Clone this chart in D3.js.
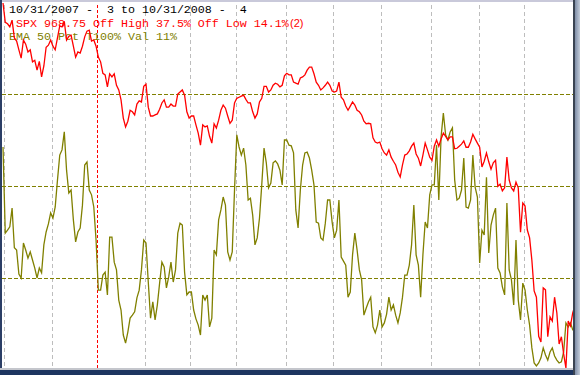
<!DOCTYPE html>
<html>
<head>
<meta charset="utf-8">
<script src="https://cdn.jsdelivr.net/npm/d3@7"></script>
<style>
  body { margin: 0; background: #fff; }
  svg { display: block; }
  text { white-space: pre; }
</style>
</head>
<body>
<div id="chart"></div>
<script>
// Chart size and the white plotting box inside the window frame
const width = 580;
const height = 375;
const box = {left: 2, right: 573, top: 2, bottom: 368};

// Trading days counted from 10/31/2007 (day 0) to 10/31/2008 (day 252)
const spxClose = [
  1550,1513,1510,1504,1517,1483,1477,1460,1444,1479,
  1471,1456,1460,1437,1440,1421,1438,1408,1429,1465,
  1469,1479,1467,1460,1483,1506,1504,1515,1479,1486,
  1488,1467,1446,1456,1454,1467,1485,1496,1498,1477,
  1479,1467,1446,1437,1415,1412,1389,1414,1408,1414,
  1392,1383,1364,1329,1312,1323,1344,1341,1335,1356,
  1362,1360,1390,1394,1350,1333,1333,1335,1337,1346,
  1358,1364,1350,1350,1356,1352,1352,1375,1379,1383,
  1373,1341,1329,1333,1333,1316,1300,1277,1316,1312,
  1314,1294,1281,1318,1310,1325,1344,1354,1348,1333,
  1319,1325,1358,1367,1369,1371,1373,1365,1358,1358,
  1341,1329,1337,1360,1367,1390,1390,1379,1383,1392,
  1396,1394,1389,1392,1410,1415,1412,1412,1398,1396,
  1394,1406,1408,1412,1421,1427,1427,1414,1398,1392,
  1383,1387,1392,1398,1392,1381,1379,1381,1398,1369,
  1364,1352,1344,1352,1360,1354,1344,1341,1335,1323,
  1318,1319,1318,1291,1283,1281,1283,1270,1262,1258,
  1268,1254,1246,1239,1225,1216,1239,1258,1260,1266,
  1275,1281,1260,1252,1237,1258,1281,1268,1254,1248,
  1275,1287,1275,1289,1300,1294,1287,1293,1293,1270,
  1271,1275,1279,1285,1273,1273,1283,1298,1289,1281,
  1273,1235,1246,1262,1245,1231,1243,1248,1198,1202,
  1189,1195,1254,1210,1195,1189,1206,1195,1110,1166,
  1160,1114,1099,1056,997,985,910,899,1003,999,
  909,947,939,985,955,895,909,876,849,939,
  930,955,968.75
];

// EMA 50 percent value, 0 to 100
const emaPct = [
  60.6,37.2,38.0,38.9,44.0,33.2,32.6,26.1,25.0,34.5,
  32.6,30.4,32.1,29.9,27.7,25.0,27.7,26.4,34.0,37.5,
  39.7,42.7,41.3,44.3,51.6,58.4,59.8,64.7,54.3,48.1,
  48.9,40.8,34.8,37.5,38.6,44.8,55.7,56.5,48.9,47.6,
  44.3,35.3,21.7,21.7,25.8,26.6,20.4,36.1,36.1,29.3,
  27.2,19.0,16.3,9.5,7.3,10.3,14.1,14.9,15.8,19.6,
  21.7,27.2,35.3,34.5,23.9,14.1,18.5,13.6,17.7,23.6,
  29.3,28.0,22.3,25.3,29.3,23.9,27.2,37.2,39.9,39.4,
  26.6,20.4,21.2,21.2,16.3,13.9,12.2,9.5,20.4,19.0,
  20.4,11.7,14.1,32.6,31.3,40.8,43.5,47.0,44.8,32.1,
  29.9,32.1,48.9,63.9,60.6,58.4,60.3,55.7,46.2,46.7,
  42.1,34.0,35.9,41.3,50.3,60.3,56.3,49.5,50.8,56.3,
  56.8,56.0,54.3,50.3,62.5,62.5,61.1,60.9,59.0,43.5,
  38.6,48.9,55.7,59.0,59.2,57.6,54.3,50.3,40.2,39.9,
  35.9,35.3,39.9,46.2,46.2,40.2,35.9,38.0,46.2,30.7,
  29.6,28.5,19.8,21.2,31.3,37.2,32.6,27.2,24.5,14.9,
  16.8,18.5,19.8,11.7,10.1,12.2,16.3,11.7,12.8,15.2,
  19.8,16.3,17.7,14.9,12.8,15.5,19.8,25.8,25.8,28.5,
  34.0,44.8,31.3,28.5,19.8,31.3,40.2,38.6,47.6,50.3,
  50.3,61.1,46.2,63.3,69.8,63.9,62.5,64.7,65.8,51.6,
  46.2,46.7,48.9,57.6,44.3,44.0,46.2,58.4,49.7,47.0,
  29.1,38.0,36.7,52.4,31.8,39.4,42.1,44.0,27.7,26.4,
  22.6,20.4,45.4,27.2,24.5,17.7,35.3,19.0,13.6,23.6,
  21.7,16.3,12.2,6.0,1.9,1.1,1.9,3.3,6.0,4.1,
  2.7,4.9,6.0,3.8,2.7,1.9,2.2,4.9,12.8,11.7,
  12.8,10.9,11
];

// first trading day of each month (Jan is the year line)
const monthDays = [1, 22, 63, 83, 103, 125, 146, 167, 189, 210, 230];
const yearDay = 42;
const pctGrid = [25, 50, 75];

const headerLines = [
  {text: "10/31/2007 -  3 to 10/31/2008 -  4", color: "#000000"},
  {text: " SPX 968.75 Off High 37.5% Off Low 14.1%", color: "#ff0000"},
  {text: "EMA 50 Pct T100% Val 11%", color: "#808000"}
];

const svg = d3.select("#chart")
  .append("svg")
  .attr("width", width)
  .attr("height", height);

// window frame background
svg.append("rect").attr("width", width).attr("height", height).attr("fill", "#1d3560");
svg.append("rect")
  .attr("x", box.left).attr("y", box.top)
  .attr("width", box.right - box.left).attr("height", box.bottom - box.top)
  .attr("fill", "#ffffff");

// scales
const x = d3.scaleLinear().domain([0, spxClose.length - 1]).range([3, 575]);
const ySpx = d3.scaleLinear().domain([849, 1550]).range([368, 3]);
const yPct = d3.scaleLinear().domain([0, 100]).range([370, 2]);

// vertical month grid
svg.append("g")
  .selectAll("line")
  .data(monthDays)
  .join("line")
    .attr("x1", d => Math.round(x(d - 0.5)) + 0.5)
    .attr("x2", d => Math.round(x(d - 0.5)) + 0.5)
    .attr("y1", 5)
    .attr("y2", box.bottom)
    .attr("stroke", "#bdbdbd")
    .attr("stroke-dasharray", "4,3");

svg.append("line")
  .attr("x1", Math.round(x(yearDay - 0.5)) + 0.5)
  .attr("x2", Math.round(x(yearDay - 0.5)) + 0.5)
  .attr("y1", 5)
  .attr("y2", box.bottom)
  .attr("stroke", "#ff0000")
  .attr("stroke-dasharray", "3,2");

// horizontal percent grid
svg.append("g")
  .selectAll("line")
  .data(pctGrid)
  .join("line")
    .attr("x1", box.left)
    .attr("x2", box.right)
    .attr("y1", d => Math.round(yPct(d)) + 0.5)
    .attr("y2", d => Math.round(yPct(d)) + 0.5)
    .attr("stroke", "#808000")
    .attr("stroke-width", 1.2)
    .attr("stroke-dasharray", "4,2");

// header text
svg.append("g")
  .selectAll("text")
  .data(headerLines)
  .join("text")
    .attr("x", 9)
    .attr("y", (d, i) => 13 + i * 13.5)
    .attr("fill", d => d.color)
    .attr("font-family", "'Liberation Mono', 'Courier New', monospace")
    .attr("font-size", "11.67px")
    .text(d => d.text);

svg.append("text")
  .attr("x", 290)
  .attr("y", 26.5)
  .attr("fill", "#ff0000")
  .attr("font-family", "'Liberation Sans', Arial, sans-serif")
  .attr("font-size", "11px")
  .text("(2)");

// data lines
const clip = svg.append("clipPath").attr("id", "plotclip")
  .append("rect")
  .attr("x", box.left).attr("y", box.top)
  .attr("width", box.right - box.left).attr("height", box.bottom - box.top);

const emaLine = d3.line()
  .x((d, i) => x(i))
  .y(d => yPct(d));

const spxLine = d3.line()
  .x((d, i) => x(i))
  .y(d => ySpx(d));

svg.append("path")
  .datum(emaPct)
  .attr("clip-path", "url(#plotclip)")
  .attr("fill", "none")
  .attr("stroke", "#808000")
  .attr("stroke-width", 1.3)
  .attr("d", emaLine);

svg.append("path")
  .datum(spxClose)
  .attr("clip-path", "url(#plotclip)")
  .attr("fill", "none")
  .attr("stroke", "#ff0000")
  .attr("stroke-width", 1.3)
  .attr("d", spxLine);

// frame edges
svg.append("rect").attr("x", 0).attr("y", 0).attr("width", width).attr("height", 2).attr("fill", "#c9c9da");
svg.append("rect").attr("x", 0).attr("y", 0).attr("width", 2).attr("height", height).attr("fill", "#2c3f66");
svg.append("rect").attr("x", 0).attr("y", 368).attr("width", width).attr("height", 2).attr("fill", "#c4c6cc");

const grad = svg.append("defs").append("linearGradient").attr("id", "rightedge");
grad.append("stop").attr("offset", "0%").attr("stop-color", "#7f8ea8");
grad.append("stop").attr("offset", "100%").attr("stop-color", "#c3ccd9");
svg.append("rect").attr("x", 573).attr("y", 0).attr("width", 2).attr("height", height).attr("fill", "#3b4452");
svg.append("rect").attr("x", 575).attr("y", 0).attr("width", 5).attr("height", height).attr("fill", "url(#rightedge)");
svg.append("rect").attr("x", 0).attr("y", 370).attr("width", 573).attr("height", 5).attr("fill", "#1d3560");
</script>
</body>
</html>
